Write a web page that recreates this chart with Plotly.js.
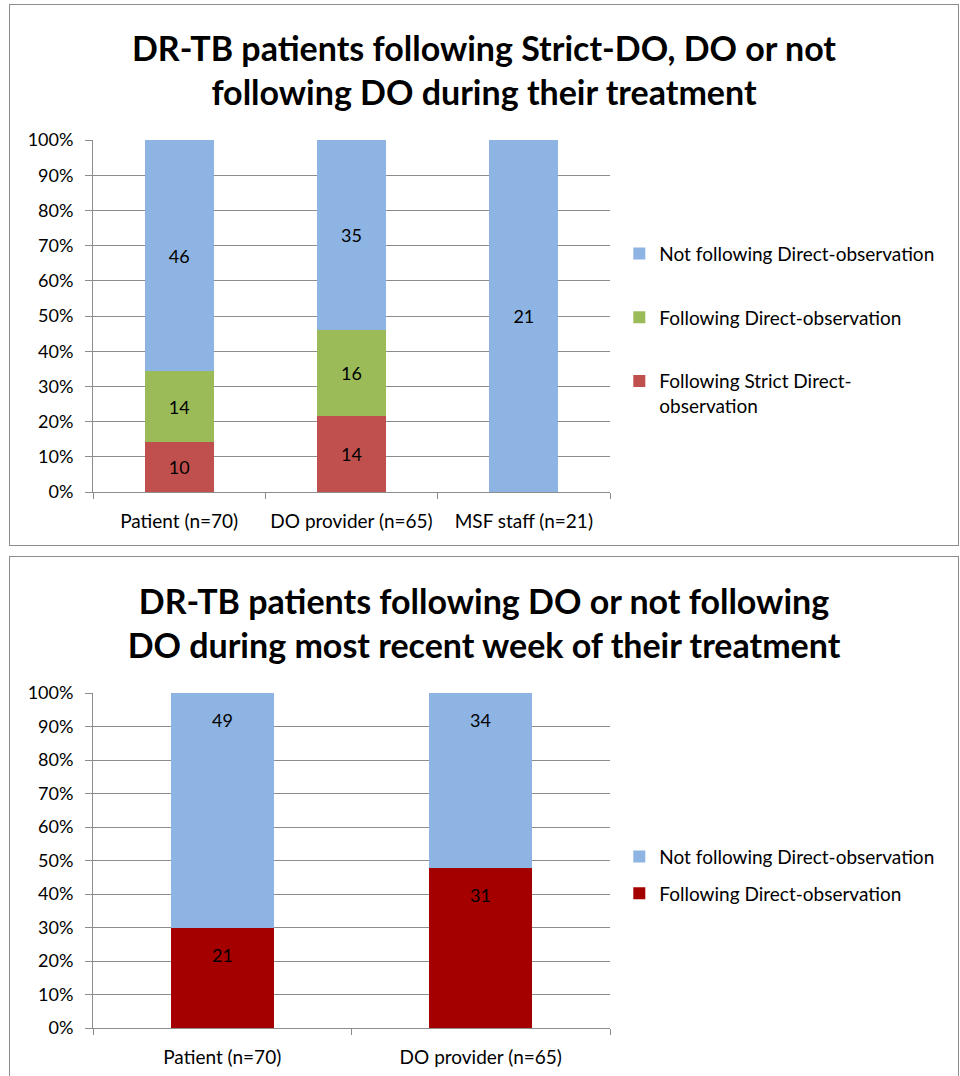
<!DOCTYPE html>
<html>
<head>
<meta charset="utf-8">
<script src="https://cdn.plot.ly/plotly-3.0.1.min.js"></script>
<style>
  html, body { margin: 0; padding: 0; background: #fff; width: 960px; height: 1076px; overflow: hidden; }
  #c1 { position: absolute; left: 9px; top: 4px; width: 948px; height: 540px; border: 1px solid #8c8c8c; }
  #c2 { position: absolute; left: 9px; top: 556px; width: 948px; height: 530px; border: 1px solid #8c8c8c; }
</style>
</head>
<body>
<div id="c1"></div>
<div id="c2"></div>
<script>
// ---- Chart 1 data ----
const cats1 = ["Patient (n=70)", "DO provider (n=65)", "MSF staff (n=21)"];
const strictDO1 = [10, 14, 0];
const followDO1 = [14, 16, 0];
const notDO1 = [46, 35, 21];
const names1 = ["Following Strict Direct-<br>observation", "Following Direct-observation", "Not following Direct-observation"];
const colors1 = ["#C0504D", "#9BBB59", "#8EB4E3"];

// ---- Chart 2 data ----
const cats2 = ["Patient (n=70)", "DO provider (n=65)"];
const followDO2 = [21, 31];
const notDO2 = [49, 34];
const names2 = ["Following Direct-observation", "Not following Direct-observation"];
const colors2 = ["#A50000", "#8EB4E3"];

const title1 = "DR-TB patients following Strict-DO, DO or not<br>following DO during their treatment";
const title2 = "DR-TB patients following DO or not following<br>DO during most recent week of their treatment";

const FONT = "Lato, 'Open Sans', sans-serif";
const GRID = "#8c8c8c";

function mkTrace(cats, vals, name, color, i, rank, showText) {
  return {
    type: "bar", x: cats, y: vals, name: name,
    legendgroup: "g" + i, legendrank: rank,
    marker: { color: color, line: { width: 0 } },
    text: showText ? vals.map(v => v > 0 ? String(v) : "") : undefined,
    textposition: showText ? "inside" : "none", insidetextanchor: "middle",
    textfont: { family: FONT, size: 18, color: "#000" },
    hoverinfo: "skip", cliponaxis: false
  };
}

function mkLayout(h, title, titleY, mt, mb, legY, gap) {
  return {
    width: 948, height: h,
    paper_bgcolor: "#fff", plot_bgcolor: "#fff",
    margin: { l: 83, r: 348, t: mt, b: mb, pad: 0 },
    barmode: "stack", barnorm: "percent", bargap: 0.6,
    font: { family: FONT, size: 18, color: "#000" },
    title: {
      text: title, x: 0.5, xanchor: "center", xref: "container",
      y: 1 - titleY / h, yref: "container", yanchor: "middle",
      font: { family: FONT, size: 34, color: "#000", weight: "bold" }
    },
    showlegend: true,
    legend: {
      x: 1.018, xanchor: "left", y: legY, yanchor: "top",
      traceorder: "grouped", tracegroupgap: gap, valign: "top",
      font: { family: FONT, size: 19, color: "#000" },
      bgcolor: "rgba(0,0,0,0)"
    },
    xaxis: {
      type: "category", showline: true, linecolor: GRID, linewidth: 1,
      ticks: "outside", tickson: "boundaries", ticklen: 6, tickcolor: GRID,
      ticklabelstandoff: 12,
      showgrid: false, tickfont: { family: FONT, size: 19, color: "#000" },
      fixedrange: true
    },
    yaxis: {
      range: [0, 100], dtick: 10, ticksuffix: "%",
      showline: true, linecolor: GRID, linewidth: 1,
      ticks: "outside", ticklen: 7, tickcolor: GRID,
      ticklabelstandoff: 8,
      showgrid: true, gridcolor: GRID, gridwidth: 1, zeroline: false,
      tickfont: { family: FONT, size: 18, color: "#000" },
      fixedrange: true
    },
    hovermode: false
  };
}

const t1 = [
  mkTrace(cats1, strictDO1, names1[0], colors1[0], 0, 3, true),
  mkTrace(cats1, followDO1, names1[1], colors1[1], 1, 2, true),
  mkTrace(cats1, notDO1, names1[2], colors1[2], 2, 1, true)
];
const t2 = [
  mkTrace(cats2, followDO2, names2[0], colors2[0], 0, 2, false),
  mkTrace(cats2, notDO2, names2[1], colors2[1], 1, 1, false)
];

// Chart 2 labels sit at the inside end (top) of each segment, as in the source
const ann2 = [];
cats2.forEach((c, k) => {
  const total = followDO2[k] + notDO2[k];
  const segs = [followDO2[k], notDO2[k]];
  let cum = 0;
  segs.forEach(v => {
    cum += v;
    ann2.push({
      x: c, y: cum / total * 100, xref: "x", yref: "y",
      text: String(v), showarrow: false, yanchor: "top", yshift: -14,
      font: { family: FONT, size: 18, color: "#000" }
    });
  });
});

const lay1 = mkLayout(540, title1, 56, 135, 53, 0.731, 36);
const lay2 = mkLayout(530, title2, 57, 136, 59, 0.568, 9);
lay2.annotations = ann2;

Plotly.newPlot("c1", t1, lay1, { displayModeBar: false, staticPlot: true });
Plotly.newPlot("c2", t2, lay2, { displayModeBar: false, staticPlot: true });
</script>
</body>
</html>
